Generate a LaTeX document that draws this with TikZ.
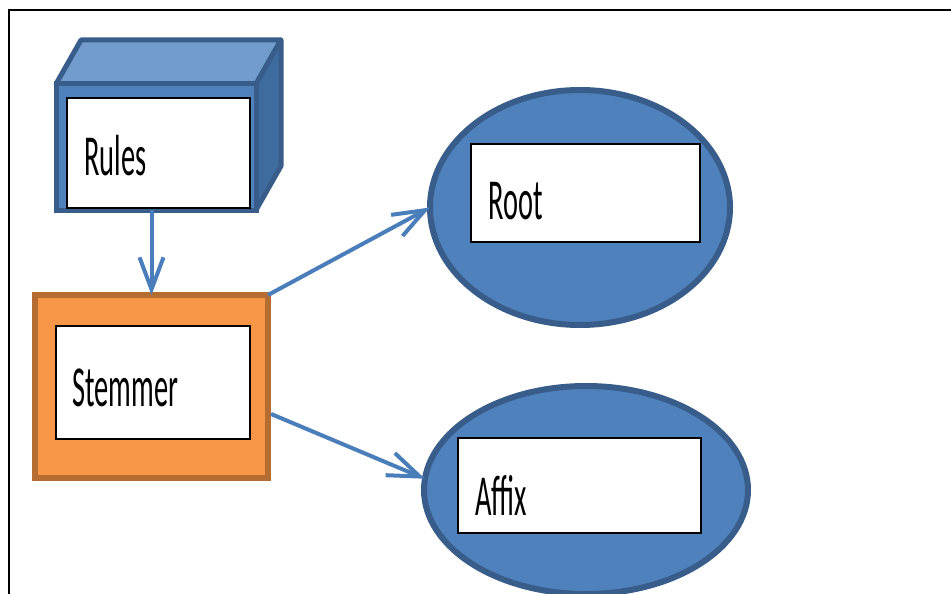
\documentclass[tikz,border=0pt]{standalone}
\usepackage{fontspec}
\usepackage{graphicx}
\usetikzlibrary{shapes.geometric,arrows.meta,calc}
\newfontfamily\lblfont{Carlito}
\definecolor{accblue}{HTML}{4F81BD}
\definecolor{accdark}{HTML}{385D8A}
\definecolor{acctop}{HTML}{719CCB}
\definecolor{accside}{HTML}{3F6C9F}
\definecolor{accorange}{HTML}{F79646}
\definecolor{accbrown}{HTML}{B66D31}
\definecolor{arrowblue}{HTML}{4A7EBB}
\tikzset{
  bluebox/.style={rectangle, fill=accblue, draw=accdark, line width=5pt, inner sep=0pt, outer sep=0pt},
  blueell/.style={ellipse, fill=accblue, draw=accdark, line width=6pt, inner sep=0pt, outer sep=0pt},
  orangebox/.style={rectangle, fill=accorange, draw=accbrown, line width=6pt, inner sep=0pt, outer sep=0pt},
  whitebox/.style={rectangle, fill=white, draw=black, line width=2pt, inner sep=0pt, outer sep=0pt},
  lbl/.style={font=\lblfont\fontsize{58}{60}\selectfont, inner sep=0pt, anchor=base west},
  conn/.style={draw=arrowblue, line width=4pt, -{Straight Barb[length=32pt,width=24pt]}},
  frameline/.style={draw=black, line width=2pt}
}
\begin{document}
\begin{tikzpicture}[x=1pt,y=-1pt]
\useasboundingbox (0,0) rectangle (951,594);
% outer frame
\draw[frameline] (9,600) -- (9,10) -- (960,10);

% Rules cube
\node[bluebox, minimum width=200pt, minimum height=126pt] (rules) at (156,147) {};
\draw[fill=acctop, draw=accdark, line width=5pt, line join=round]
  (rules.north west) -- ++(25,-44) -- ++(200,0) -- (rules.north east) -- cycle;
\draw[fill=accside, draw=accdark, line width=5pt, line join=round]
  (rules.north east) -- ++(25,-44) -- ++(0,126) -- (rules.south east) -- cycle;
\node[bluebox, minimum width=200pt, minimum height=126pt] (rulesfront) at (156,147) {};
\node[whitebox, minimum width=183pt, minimum height=110pt] (rulesbox) at (158.5,153) {};
\node[lbl] (trules) at (84,175) {\scalebox{0.49}[1]{Rules}};

% Stemmer
\node[orangebox, minimum width=233pt, minimum height=183pt] (stem) at (151.5,386.5) {};
\node[whitebox, minimum width=194pt, minimum height=113pt] (stembox) at (153,382.5) {};
\node[lbl] (tstem) at (72,406) {\scalebox{0.49}[1]{Stemmer}};

% Root
\node[blueell, minimum width=300pt, minimum height=235pt] (root) at (580,207.5) {};
\node[whitebox, minimum width=229pt, minimum height=98pt] (rootbox) at (585.5,192.5) {};
\node[lbl] (troot) at (488,219) {\scalebox{0.49}[1]{Root}};

% Affix
\node[blueell, minimum width=324pt, minimum height=208pt] (affix) at (586,490) {};
\node[whitebox, minimum width=243pt, minimum height=95pt] (affixbox) at (579,485.5) {};
\node[lbl] (taffix) at (475,515) {\scalebox{0.49}[1]{Affix}};

% connectors
\coordinate (s2) at ($(stem.north east)!0.65!(stem.south east)+(3,0)$);
\draw[conn] (stem.north |- rules.south) -- (stem.north);
\draw[conn] (stem.north east) -- (root.west);
\draw[conn] (s2) -- (affix.176);
\end{tikzpicture}
\end{document}
